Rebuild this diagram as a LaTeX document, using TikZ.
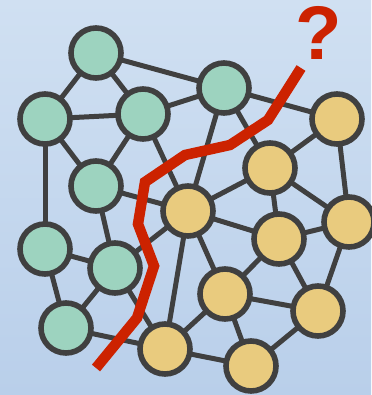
\documentclass[tikz,border=0pt]{standalone}
\usepackage{fontspec}
\setmainfont{Liberation Sans}
\pgfdeclarelayer{bglayer}
\pgfdeclarelayer{edgelayer}
\pgfsetlayers{bglayer,edgelayer,main}
\begin{document}
\begin{tikzpicture}[x=1pt,y=-1pt,
  nd/.style={circle,draw=edgecol,line width=5.6pt,minimum size=50pt,inner sep=0pt},
  gn/.style={nd,fill=greenfill},
  yn/.style={nd,fill=yellowfill},
  ed/.style={draw=edgecol,line width=5pt}]
\definecolor{edgecol}{HTML}{404040}
\definecolor{greenfill}{HTML}{9DD3BF}
\definecolor{yellowfill}{HTML}{E9CB7E}
\definecolor{redcut}{HTML}{CC2200}
\definecolor{bgtop}{HTML}{D0E0F2}
\definecolor{bgbot}{HTML}{B9CFEA}
\begin{pgfonlayer}{bglayer}
\shade[top color=bgtop,bottom color=bgbot] (0,0) rectangle (371,395);
\end{pgfonlayer}
\useasboundingbox (0,0) rectangle (371,395);
% nodes
\node[gn] (g1) at (96,53) {};
\node[gn] (g2) at (45,119) {};
\node[gn] (g3) at (143,114) {};
\node[gn] (g4) at (96,186) {};
\node[gn] (g5) at (224,88) {};
\node[gn] (g6) at (45,249) {};
\node[gn] (g7) at (115,268) {};
\node[gn] (g8) at (66,328) {};
\node[yn] (y1) at (337,119) {};
\node[yn] (y2) at (270,168) {};
\node[yn] (y3) at (188,211) {};
\node[yn] (y4) at (349,222) {};
\node[yn] (y5) at (279,239) {};
\node[yn] (y6) at (225,294) {};
\node[yn] (y7) at (318,311) {};
\node[yn] (y8) at (165,349) {};
\node[yn] (y9) at (251,366) {};
% edges behind the nodes
\begin{pgfonlayer}{edgelayer}
\foreach \a/\b in {g1/g2,g1/g3,g1/g5,g2/g3,g2/g4,g2/g6,g3/g4,g3/g5,g3/y3,
  g4/g7,g4/y3,g6/g7,g6/g8,g7/g8,g7/y3,g7/y8,g8/y8,
  g5/y1,g5/y2,g5/y3,y1/y2,y1/y4,y2/y3,y2/y5,y2/y4,
  y3/y5,y3/y6,y3/y8,y5/y4,y5/y6,y5/y7,y4/y7,y6/y7,y6/y8,y6/y9,y7/y9,y8/y9}
  {\path[ed] (\a.center) -- (\b.center);}
\end{pgfonlayer}
% cut line
\coordinate (c1) at (96,368);
\coordinate (c9) at (301,68);
\draw[redcut,line width=10.5pt] (c1) -- (137,318) -- (154,266) -- (138,224) -- (145,182) -- (185,155) -- (230,145) -- (268,120) -- (c9);
\node[text=redcut,font=\bfseries\fontsize{76}{76}\selectfont,inner sep=0pt] (q) at (319,33) {?};
\end{tikzpicture}
\end{document}
